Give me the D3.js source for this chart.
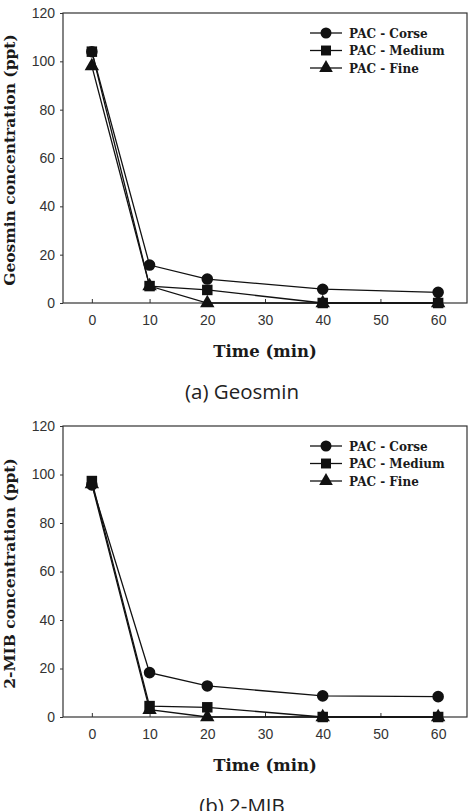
<!DOCTYPE html>
<html>
<head>
<meta charset="utf-8">
<script src="https://cdn.jsdelivr.net/npm/d3@7"></script>
<style>
  body { margin: 0; background: #fff; }
  .tick text { font-family: Arial, "Liberation Sans", sans-serif; font-size: 14px; fill: #333; }
  .serif { font-family: "DejaVu Serif", serif; font-weight: bold; fill: #1a1a1a; }
</style>
</head>
<body>
<div id="chart"></div>
<script>
// data
const times = [0, 10, 20, 40, 60];
const seriesNames = ["PAC - Corse", "PAC - Medium", "PAC - Fine"];
const geosminCorse = [104, 15.7, 9.9, 5.7, 4.4];
const geosminMedium = [104, 7.0, 5.4, 0, 0];
const geosminFine = [98, 7.0, 0, 0, 0];
const mibCorse = [95.7, 18.3, 12.8, 8.7, 8.4];
const mibMedium = [97.3, 4.5, 4.0, 0, 0];
const mibFine = [96, 3.0, 0, 0, 0];
const xTicks = [0, 10, 20, 30, 40, 50, 60];
const yTicks = [0, 20, 40, 60, 80, 100, 120];

const width = 469, height = 811;
const svg = d3.select("#chart").append("svg")
    .attr("width", width)
    .attr("height", height);

const symbols = [d3.symbolCircle, d3.symbolSquare, d3.symbolTriangle];
const symSize = [105, 110, 90];

function drawPanel(top, bottom, yTitle, caption, data) {
    const left = 63, right = 467;

    const x = d3.scaleLinear().domain([-5, 65]).range([left, right]);
    const y = d3.scaleLinear().domain([0, 120]).range([bottom, top]);

    const g = svg.append("g");

    // frame
    g.append("rect")
        .attr("x", left).attr("y", top)
        .attr("width", right - left).attr("height", bottom - top)
        .attr("fill", "none").attr("stroke", "#333").attr("stroke-width", 1.2);

    // x ticks point inward, y ticks stick out a little
    const xAxis = g.append("g")
        .attr("transform", `translate(0, ${bottom})`)
        .call(d3.axisBottom(x).tickValues(xTicks).tickSize(-4).tickPadding(12));
    xAxis.select(".domain").remove();
    xAxis.selectAll(".tick line").attr("stroke", "#333");

    const yAxis = g.append("g")
        .attr("transform", `translate(${left}, 0)`)
        .call(d3.axisLeft(y).tickValues(yTicks).tickSize(3).tickPadding(5));
    yAxis.select(".domain").remove();
    yAxis.selectAll(".tick line").attr("stroke", "#333");

    const line = d3.line()
        .x((d, i) => x(times[i]))
        .y(d => y(d));

    // lines, fine first so corse sits on top
    data.slice().reverse().forEach(function (vals) {
        g.append("path")
            .datum(vals)
            .attr("fill", "none")
            .attr("stroke", "#111")
            .attr("stroke-width", 1.3)
            .attr("d", line);
    });

    data.forEach(function (vals, k) {
        g.selectAll(null).data(vals).enter()
            .append("path")
            .attr("transform", (d, i) => `translate(${x(times[i])}, ${y(d)})`)
            .attr("d", d3.symbol().type(symbols[k]).size(symSize[k]))
            .attr("fill", "#111");
    });

    // legend
    seriesNames.forEach(function (name, k) {
        const ly = top + 20 + k * 17.5;
        g.append("line")
            .attr("x1", 310).attr("x2", 342)
            .attr("y1", ly).attr("y2", ly)
            .attr("stroke", "#111").attr("stroke-width", 1.3);
        g.append("path")
            .attr("transform", `translate(326, ${ly})`)
            .attr("d", d3.symbol().type(symbols[k]).size(symSize[k] * 0.9))
            .attr("fill", "#111");
        g.append("text")
            .attr("class", "serif")
            .attr("x", 349).attr("y", ly + 4.5)
            .attr("font-size", 12)
            .text(name);
    });

    // axis titles
    g.append("text")
        .attr("class", "serif")
        .attr("x", 265)
        .attr("y", bottom + 54)
        .attr("text-anchor", "middle")
        .attr("font-size", 16.5)
        .text("Time (min)");

    g.append("text")
        .attr("class", "serif")
        .attr("transform", `translate(15, ${(top + bottom) / 2 + 2}) rotate(-90)`)
        .attr("text-anchor", "middle")
        .attr("font-size", 15.5)
        .text(yTitle);

    g.append("text")
        .attr("x", 242)
        .attr("y", bottom + 96)
        .attr("text-anchor", "middle")
        .attr("font-family", "'Open Sans', 'Noto Sans', sans-serif")
        .attr("font-size", 20.5)
        .attr("fill", "#222")
        .text(caption);
}

drawPanel(13, 303, "Geosmin concentration (ppt)", "(a) Geosmin",
    [geosminCorse, geosminMedium, geosminFine]);
drawPanel(426, 717, "2-MIB concentration (ppt)", "(b) 2-MIB",
    [mibCorse, mibMedium, mibFine]);
</script>
</body>
</html>
